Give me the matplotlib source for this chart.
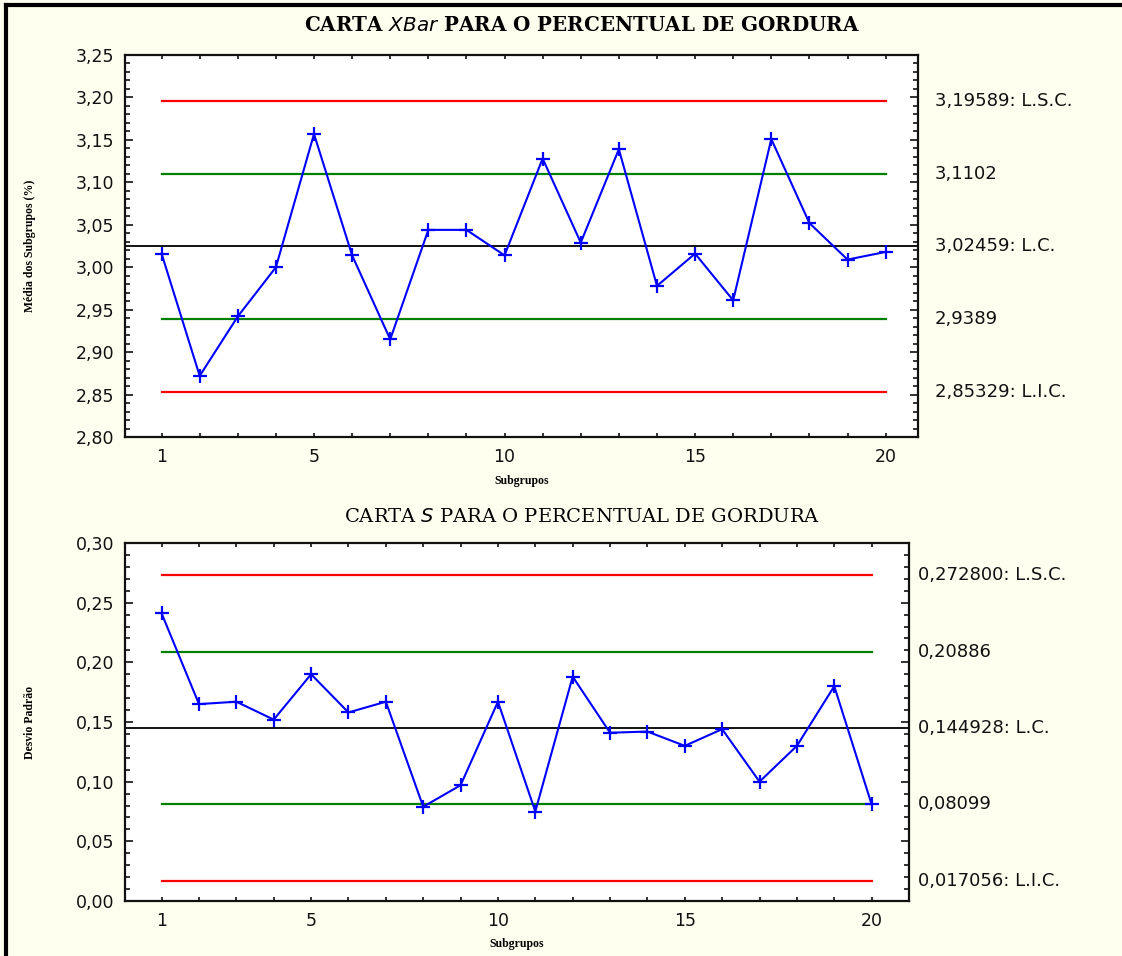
import matplotlib
matplotlib.use("Agg")
import matplotlib.pyplot as plt
from matplotlib.ticker import MultipleLocator, FuncFormatter
from matplotlib.lines import Line2D

# subgroup numbers and the two charted statistics
subgrupos = list(range(1, 21))
medias = [3.016, 2.872, 2.942, 3.000, 3.157, 3.014, 2.915, 3.044, 3.044, 3.014,
          3.128, 3.029, 3.139, 2.978, 3.016, 2.961, 3.151, 3.052, 3.009, 3.018]
desvios = [0.241, 0.165, 0.167, 0.152, 0.190, 0.158, 0.167, 0.079, 0.097, 0.167,
           0.075, 0.188, 0.141, 0.142, 0.130, 0.144, 0.100, 0.130, 0.180, 0.081]

# control limits: LSC, upper 2-sigma, LC, lower 2-sigma, LIC
lim_xbar = [3.19589, 3.1102, 3.02459, 2.9389, 2.85329]
txt_xbar = ["3,19589: L.S.C.", "3,1102", "3,02459: L.C.", "2,9389", "2,85329: L.I.C."]
lim_s = [0.272800, 0.20886, 0.144928, 0.08099, 0.017056]
txt_s = ["0,272800: L.S.C.", "0,20886", "0,144928: L.C.", "0,08099", "0,017056: L.I.C."]

bg = "#fffff0"
tick_font = "DejaVu Sans"
tick_size = 12.5

fig = plt.figure(figsize=(11.22, 9.56), dpi=100, facecolor=bg)

ax1 = fig.add_axes([125/1122, 1-437/956, 793/1122, 382/956])
ax2 = fig.add_axes([125/1122, 1-901/956, 784/1122, 358/956])


def comma(v, pos, nd=2):
    return f"{v:.{nd}f}".replace(".", ",")


def xlab(v, pos):
    i = int(round(v))
    return str(i) if i in (1, 5, 10, 15, 20) else ""


def draw(ax, vals, lims, txts, ylim, major, minor, xlim, off):
    ax.set_facecolor("white")
    cores = ["red", "green", "black", "green", "red"]
    for i, (lv, c) in enumerate(zip(lims, cores)):
        if c == "black":
            ax.axhline(lv, color="black", lw=1.3, zorder=2)
        else:
            ax.plot([1, 20], [lv, lv], color=c, lw=1.6, zorder=2)
        ax.annotate(txts[i], xy=(1.0, lv), xycoords=("axes fraction", "data"),
                    xytext=(off, 0), textcoords="offset points", va="center",
                    ha="left", fontsize=13, family=tick_font,
                    color="#111111")
    ax.plot(subgrupos, vals, color="blue", lw=1.5, marker="+", ms=10, mew=1.6,
            zorder=3)
    ax.set_xlim(*xlim)
    ax.set_ylim(*ylim)
    ax.xaxis.set_major_locator(MultipleLocator(1))
    ax.xaxis.set_major_formatter(FuncFormatter(xlab))
    ax.yaxis.set_major_locator(MultipleLocator(major))
    ax.yaxis.set_minor_locator(MultipleLocator(minor))
    ax.yaxis.set_major_formatter(FuncFormatter(comma))
    ax.tick_params(axis="both", which="both", direction="in", top=True,
                   right=True, width=1.2, labelsize=tick_size, pad=8,
                   colors="#111111")
    ax.tick_params(axis="y", which="major", length=6)
    ax.tick_params(axis="y", which="minor", length=3.5)
    ax.tick_params(axis="x", which="major", length=3)
    for lab in ax.get_xticklabels() + ax.get_yticklabels():
        lab.set_family(tick_font)
    for sp in ax.spines.values():
        sp.set_linewidth(1.6)
        sp.set_color("#111111")


draw(ax1, medias, lim_xbar, txt_xbar, (2.80, 3.25), 0.05, 0.01, (0.04, 20.85), 12)
draw(ax2, desvios, lim_s, txt_s, (0.0, 0.30), 0.05, 0.01, (0.02, 21.0), 6.5)

fig.text(0.519, 1-25/956, r"CARTA $\mathit{XBar}$ PARA O PERCENTUAL DE GORDURA",
         ha="center", va="center", fontsize=14.3, family="DejaVu Serif",
         weight="bold")
fig.text(0.519, 1-517/956, r"CARTA $\mathit{S}$ PARA O PERCENTUAL DE GORDURA",
         ha="center", va="center", fontsize=14, family="DejaVu Serif")

lab_kw = dict(fontsize=8.5, family="Liberation Serif", weight="bold")
ax1.set_xlabel("Subgrupos", labelpad=6.5, **lab_kw)
ax2.set_xlabel("Subgrupos", labelpad=6, **lab_kw)
fig.text(30/1122, 1-246/956, "Média dos Subgrupos (%)", rotation=90,
         ha="center", va="center", **lab_kw)
fig.text(30/1122, 1-722/956, "Desvio Padrão", rotation=90,
         ha="center", va="center", **lab_kw)

# frame on the left and top edges
fig.add_artist(Line2D([6/1122, 6/1122], [0, 1-5/956], color="black", lw=3,
                      transform=fig.transFigure))
fig.add_artist(Line2D([6/1122, 1], [1-5/956, 1-5/956], color="black", lw=3,
                      transform=fig.transFigure))

fig.savefig("out.png", dpi=100, facecolor=bg)
